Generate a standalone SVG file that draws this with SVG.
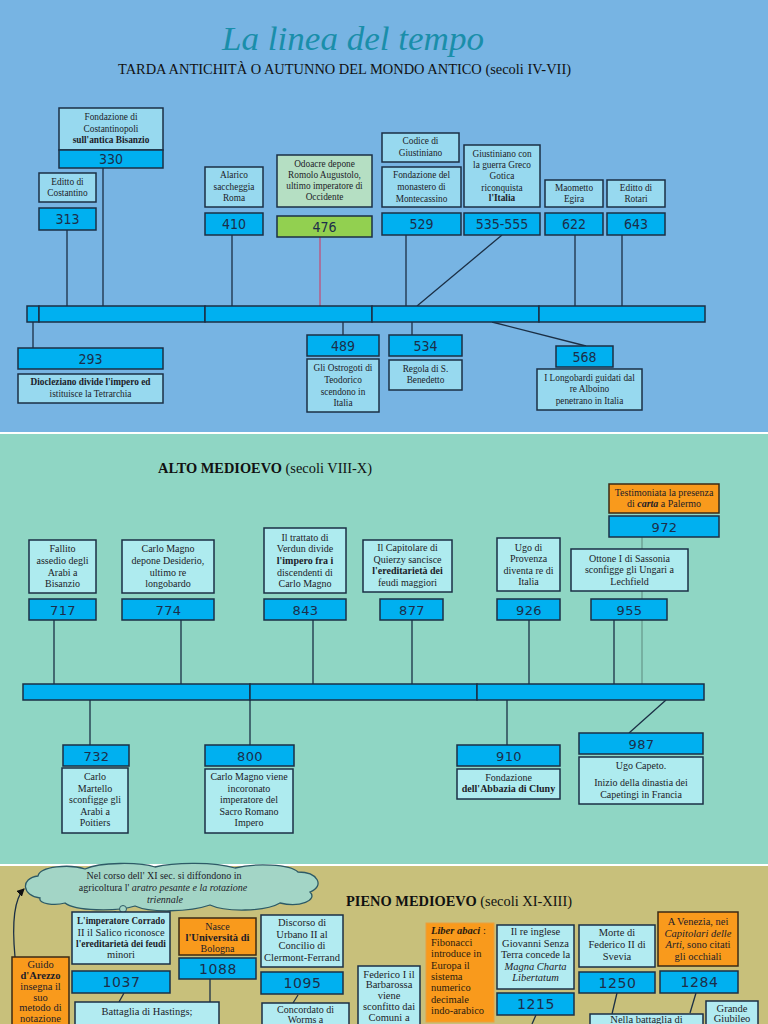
<svg xmlns="http://www.w3.org/2000/svg" width="768" height="1024" viewBox="0 0 768 1024">
<defs>
<style>
.yb{fill:#00B0F0;stroke:#1b2f45;stroke-width:1.5}
.d1{fill:#97D9EF;stroke:#1b2f45;stroke-width:1.5}
.d2{fill:#AEEBEF;stroke:#1b2f45;stroke-width:1.5}
.d3{fill:#B2EBF1;stroke:#1b2f45;stroke-width:1.5}
.ob{fill:#F99A1C;stroke:#3b2a14;stroke-width:1.5}
.gb{fill:#92D050;stroke:#1b2f45;stroke-width:1.5}
.ln{stroke:#1b2f45;stroke-width:1.3;fill:none}
.t{font-family:"Liberation Serif","Times New Roman",serif;text-anchor:middle;fill:#1c1c28}
.s1{font-size:9.3px}
.s2{font-size:10px}
.s3{font-size:10.5px}
.n1{font-family:"Liberation Sans Narrow","DejaVu Sans Condensed","Liberation Sans",sans-serif;font-size:14px;text-anchor:middle;fill:#1c2e4a}
.n2{font-family:"DejaVu Sans",sans-serif;font-size:13px;letter-spacing:0.4px;text-anchor:middle;fill:#1c2e4a}
.n3{font-family:"DejaVu Sans",sans-serif;font-size:14px;letter-spacing:0.6px;text-anchor:middle;fill:#1c2e4a}
.b{font-weight:bold}
.i{font-style:italic}
.h{font-family:"Liberation Serif","Times New Roman",serif;fill:#111}
</style>
<marker id="ah" markerWidth="8" markerHeight="8" refX="7" refY="4" orient="auto" markerUnits="userSpaceOnUse">
<path d="M0,0 L8,4 L0,8 z" fill="#111"/>
</marker>
</defs>

<!-- backgrounds -->
<rect x="0" y="0" width="768" height="432" fill="#77B4E3"/>
<rect x="0" y="432" width="768" height="2" fill="#ffffff"/>
<rect x="0" y="434" width="768" height="430" fill="#8FD6C4"/>
<rect x="0" y="864" width="768" height="2" fill="#ffffff"/>
<rect x="0" y="866" width="768" height="158" fill="#C8C07B"/>

<!-- titles -->
<text x="353" y="50" text-anchor="middle" font-family="Liberation Serif, serif" font-style="italic" font-size="34" fill="#1A8EAA" textLength="262" lengthAdjust="spacingAndGlyphs">La linea del tempo</text>
<text x="118" y="74" class="h" font-size="15.5" textLength="453" lengthAdjust="spacingAndGlyphs">TARDA ANTICHITÀ O AUTUNNO DEL MONDO ANTICO (secoli IV-VII)</text>
<text x="158" y="473" class="h" font-size="14" textLength="214" lengthAdjust="spacingAndGlyphs"><tspan font-weight="bold">ALTO MEDIOEVO</tspan> (secoli VIII-X)</text>
<text x="346" y="906" class="h" font-size="15" textLength="226" lengthAdjust="spacingAndGlyphs"><tspan font-weight="bold">PIENO MEDIOEVO</tspan> (secoli XI-XIII)</text>

<!-- connectors -->
<g id="connectors">
<line class="ln" x1="67" y1="230" x2="67" y2="306"/>
<line class="ln" x1="103" y1="168" x2="103" y2="306"/>
<line class="ln" x1="232" y1="235" x2="232" y2="306"/>
<line x1="320" y1="237" x2="320" y2="306" stroke="#C0507A" stroke-width="1.3"/>
<line class="ln" x1="406" y1="235" x2="406" y2="306"/>
<line class="ln" x1="502" y1="235" x2="417" y2="306" stroke-width="1"/>
<line class="ln" x1="575" y1="235" x2="575" y2="306"/>
<line class="ln" x1="622" y1="235" x2="622" y2="306"/>
<line class="ln" x1="33" y1="322" x2="33" y2="348"/>
<line class="ln" x1="343" y1="322" x2="343" y2="335"/>
<line class="ln" x1="412" y1="322" x2="412" y2="335"/>
<line class="ln" x1="492" y1="322" x2="586" y2="346" stroke-width="1"/>

<line x1="642" y1="537" x2="642" y2="684" stroke="#5d8a7e" stroke-width="1"/>
<line class="ln" x1="54" y1="620" x2="54" y2="684"/>
<line class="ln" x1="181" y1="620" x2="181" y2="684"/>
<line class="ln" x1="313" y1="620" x2="313" y2="684"/>
<line class="ln" x1="412" y1="620" x2="412" y2="684"/>
<line class="ln" x1="529" y1="620" x2="529" y2="684"/>
<line class="ln" x1="614" y1="620" x2="614" y2="684"/>
<line class="ln" x1="90" y1="700" x2="90" y2="745"/>
<line class="ln" x1="250" y1="700" x2="250" y2="745"/>
<line class="ln" x1="507" y1="700" x2="507" y2="745"/>
<line class="ln" x1="666" y1="700" x2="629" y2="733" stroke-width="1"/>

<path class="ln" d="M15 957 C12 925 13 900 24 889" stroke="#111" marker-end="url(#ah)"/>
<line class="ln" x1="124" y1="993" x2="119" y2="1002" stroke-width="1"/>
<line class="ln" x1="210" y1="979" x2="210" y2="1002"/>
<line class="ln" x1="298" y1="995" x2="293" y2="1003" stroke-width="1"/>
<line class="ln" x1="536" y1="1015" x2="532" y2="1024" stroke-width="1"/>
<line class="ln" x1="617" y1="993" x2="612" y2="1014" stroke-width="1"/>
<line class="ln" x1="696" y1="993" x2="690" y2="1013" stroke-width="1"/>
</g>

<!-- timeline bars -->
<g id="bar1">
<rect class="yb" x="27" y="306" width="12" height="16"/>
<rect class="yb" x="39" y="306" width="166" height="16"/>
<rect class="yb" x="205" y="306" width="167" height="16"/>
<rect class="yb" x="372" y="306" width="167" height="16"/>
<rect class="yb" x="539" y="306" width="166" height="16"/>
</g>
<g id="bar2">
<rect class="yb" x="23" y="684" width="227" height="16"/>
<rect class="yb" x="250" y="684" width="227" height="16"/>
<rect class="yb" x="477" y="684" width="227" height="16"/>
</g>

<!-- Section 1 nodes -->
<g id="n313">
<rect class="d1" x="39" y="173" width="57" height="29"/>
<text class="t s1" x="67.5" y="185">Editto di</text>
<text class="t s1" x="67.5" y="196">Costantino</text>
<rect class="yb" x="39" y="208" width="57" height="22"/>
<text class="n1" x="67.5" y="224">313</text>
</g>
<g id="n330">
<rect class="d1" x="59" y="108" width="104" height="42"/>
<text class="t s1" x="111" y="120">Fondazione di</text>
<text class="t s1" x="111" y="132">Costantinopoli</text>
<text class="t s1 b" x="111" y="143">sull'antica Bisanzio</text>
<rect class="yb" x="59" y="150" width="104" height="18"/>
<text class="n1" x="111" y="164">330</text>
</g>
<g id="n410">
<rect class="d1" x="205" y="167" width="58" height="40"/>
<text class="t s1" x="234" y="178">Alarico</text>
<text class="t s1" x="234" y="190">saccheggia</text>
<text class="t s1" x="234" y="201">Roma</text>
<rect class="yb" x="205" y="213" width="58" height="22"/>
<text class="n1" x="234" y="229">410</text>
</g>
<g id="n476">
<rect x="277" y="155" width="95" height="52" fill="#B5DFC3" stroke="#1b2f45" stroke-width="1.5"/>
<text class="t s1" x="324.5" y="167">Odoacre depone</text>
<text class="t s1" x="324.5" y="178">Romolo Augustolo,</text>
<text class="t s1" x="324.5" y="189">ultimo imperatore di</text>
<text class="t s1" x="324.5" y="200">Occidente</text>
<rect class="gb" x="277" y="216" width="95" height="21"/>
<text class="n1" x="324.5" y="231.5">476</text>
</g>
<g id="n529">
<rect class="d1" x="382" y="133" width="77" height="29"/>
<text class="t s1" x="420.5" y="144">Codice di</text>
<text class="t s1" x="420.5" y="156">Giustiniano</text>
<rect class="d1" x="382" y="167" width="79" height="40"/>
<text class="t s1" x="421.5" y="178">Fondazione del</text>
<text class="t s1" x="421.5" y="190">monastero di</text>
<text class="t s1" x="421.5" y="202">Montecassino</text>
<rect class="yb" x="382" y="213" width="79" height="22"/>
<text class="n1" x="421.5" y="229">529</text>
</g>
<g id="n535">
<rect class="d1" x="464" y="145" width="76" height="62"/>
<text class="t s1" x="502" y="157">Giustiniano con</text>
<text class="t s1" x="502" y="168">la guerra Greco</text>
<text class="t s1" x="502" y="179">Gotica</text>
<text class="t s1" x="502" y="191">riconquista</text>
<text class="t s1 b" x="502" y="201">l'Italia</text>
<rect class="yb" x="464" y="213" width="76" height="22"/>
<text class="n1" x="502" y="229">535-555</text>
</g>
<g id="n622">
<rect class="d1" x="545" y="180" width="58" height="27"/>
<text class="t s1" x="574" y="191">Maometto</text>
<text class="t s1" x="574" y="202">Egira</text>
<rect class="yb" x="545" y="213" width="58" height="22"/>
<text class="n1" x="574" y="229">622</text>
</g>
<g id="n643">
<rect class="d1" x="607" y="180" width="58" height="27"/>
<text class="t s1" x="636" y="191">Editto di</text>
<text class="t s1" x="636" y="202">Rotari</text>
<rect class="yb" x="607" y="213" width="58" height="22"/>
<text class="n1" x="636" y="229">643</text>
</g>
<g id="n293">
<rect class="yb" x="18" y="348" width="145" height="21"/>
<text class="n1" x="90.5" y="363.5">293</text>
<rect class="d1" x="18" y="374" width="145" height="29"/>
<text class="t s1 b" x="90.5" y="385">Diocleziano divide l'impero ed</text>
<text class="t s1" x="90.5" y="397">istituisce la Tetrarchia</text>
</g>
<g id="n489">
<rect class="yb" x="307" y="335" width="72" height="21"/>
<text class="n1" x="343" y="350.5">489</text>
<rect class="d1" x="307" y="359" width="72" height="53"/>
<text class="t s1" x="343" y="371">Gli Ostrogoti di</text>
<text class="t s1" x="343" y="383">Teodorico</text>
<text class="t s1" x="343" y="395">scendono in</text>
<text class="t s1" x="343" y="406">Italia</text>
</g>
<g id="n534">
<rect class="yb" x="389" y="335" width="73" height="21"/>
<text class="n1" x="425.5" y="350.5">534</text>
<rect class="d1" x="389" y="360" width="73" height="30"/>
<text class="t s1" x="425.5" y="372">Regola di S.</text>
<text class="t s1" x="425.5" y="383">Benedetto</text>
</g>
<g id="n568">
<rect class="yb" x="556" y="346" width="57" height="21"/>
<text class="n1" x="584.5" y="361.5">568</text>
<rect class="d1" x="537" y="369" width="105" height="41"/>
<text class="t s1" x="589.5" y="381">I Longobardi guidati dal</text>
<text class="t s1" x="589.5" y="392">re Alboino</text>
<text class="t s1" x="589.5" y="404">penetrano in Italia</text>
</g>

<!-- Section 2 nodes -->
<g id="n717">
<rect class="d2" x="29" y="540" width="67" height="53"/>
<text class="t s2" x="62.5" y="552">Fallito</text>
<text class="t s2" x="62.5" y="564">assedio degli</text>
<text class="t s2" x="62.5" y="575.5">Arabi a</text>
<text class="t s2" x="62.5" y="587">Bisanzio</text>
<rect class="yb" x="29" y="599" width="67" height="21"/>
<text class="n2" x="63" y="614.5">717</text>
</g>
<g id="n774">
<rect class="d2" x="122" y="540" width="92" height="53"/>
<text class="t s2" x="168" y="552">Carlo Magno</text>
<text class="t s2" x="168" y="564">depone Desiderio,</text>
<text class="t s2" x="168" y="575.5">ultimo re</text>
<text class="t s2" x="168" y="587">longobardo</text>
<rect class="yb" x="122" y="599" width="92" height="21"/>
<text class="n2" x="168.5" y="614.5">774</text>
</g>
<g id="n843">
<rect class="d2" x="264" y="528" width="82" height="65"/>
<text class="t s2" x="305" y="540.5">Il trattato di</text>
<text class="t s2" x="305" y="552">Verdun divide</text>
<text class="t s2 b" x="305" y="564">l'impero fra i</text>
<text class="t s2" x="305" y="575.5">discendenti di</text>
<text class="t s2" x="305" y="587">Carlo Magno</text>
<rect class="yb" x="264" y="599" width="82" height="21"/>
<text class="n2" x="305.5" y="614.5">843</text>
</g>
<g id="n877">
<rect class="d2" x="363" y="540" width="89" height="52"/>
<text class="t s2" x="407.5" y="551">Il Capitolare di</text>
<text class="t s2" x="407.5" y="562.5">Quierzy sancisce</text>
<text class="t s2 b" x="407.5" y="574">l'ereditarietà dei</text>
<text class="t s2" x="407.5" y="585.5">feudi maggiori</text>
<rect class="yb" x="380" y="599" width="63" height="21"/>
<text class="n2" x="412" y="614.5">877</text>
</g>
<g id="n926">
<rect class="d2" x="497" y="538" width="63" height="53"/>
<text class="t s2" x="528.5" y="550.5">Ugo di</text>
<text class="t s2" x="528.5" y="562">Provenza</text>
<text class="t s2" x="528.5" y="574">diventa re di</text>
<text class="t s2" x="528.5" y="585">Italia</text>
<rect class="yb" x="497" y="599" width="63" height="21"/>
<text class="n2" x="529" y="614.5">926</text>
</g>
<g id="n955">
<rect class="d2" x="571" y="549" width="117" height="42"/>
<text class="t s2" x="629.5" y="561.5">Ottone I di Sassonia</text>
<text class="t s2" x="629.5" y="573">sconfigge gli Ungari a</text>
<text class="t s2" x="629.5" y="585">Lechfield</text>
<rect class="yb" x="591" y="599" width="76" height="21"/>
<text class="n2" x="629.5" y="614.5">955</text>
</g>
<g id="n972">
<rect class="ob" x="609" y="484" width="110" height="29"/>
<text class="t s2" x="664" y="496">Testimoniata la presenza</text>
<text class="t s2" x="664" y="507">di <tspan font-weight="bold" font-style="italic">carta</tspan> a Palermo</text>
<rect class="yb" x="609" y="516" width="110" height="21"/>
<text class="n2" x="664.5" y="531.5">972</text>
</g>
<g id="n732">
<rect class="yb" x="63" y="745" width="66" height="21"/>
<text class="n2" x="96.5" y="760.5">732</text>
<rect class="d2" x="62" y="768" width="66" height="65"/>
<text class="t s2" x="95" y="780">Carlo</text>
<text class="t s2" x="95" y="791.5">Martello</text>
<text class="t s2" x="95" y="803">sconfigge gli</text>
<text class="t s2" x="95" y="815">Arabi a</text>
<text class="t s2" x="95" y="826">Poitiers</text>
</g>
<g id="n800">
<rect class="yb" x="205" y="745" width="89" height="21"/>
<text class="n2" x="250" y="760.5">800</text>
<rect class="d2" x="205" y="769" width="88" height="64"/>
<text class="t s2" x="249" y="780">Carlo Magno viene</text>
<text class="t s2" x="249" y="791.5">incoronato</text>
<text class="t s2" x="249" y="803">imperatore del</text>
<text class="t s2" x="249" y="815">Sacro Romano</text>
<text class="t s2" x="249" y="826">Impero</text>
</g>
<g id="n910">
<rect class="yb" x="457" y="745" width="103" height="21"/>
<text class="n2" x="509" y="760.5">910</text>
<rect class="d2" x="457" y="769" width="103" height="30"/>
<text class="t s2" x="508.5" y="781">Fondazione</text>
<text class="t s2 b" x="508.5" y="792">dell'Abbazia di Cluny</text>
</g>
<g id="n987">
<rect class="yb" x="579" y="733" width="124" height="21"/>
<text class="n2" x="641.5" y="748.5">987</text>
<rect class="d2" x="579" y="757" width="124" height="47"/>
<text class="t s2" x="641" y="769">Ugo Capeto.</text>
<text class="t s2" x="641" y="786">Inizio della dinastia dei</text>
<text class="t s2" x="641" y="797.5">Capetingi in Francia</text>
</g>

<!-- Section 3 nodes -->
<g id="cloud">
<path d="M40 898 C22 896 20 878 38 876 C40 866 70 864 85 869 C100 862 140 862 155 867 C175 862 215 862 235 868 C255 863 290 864 298 872 C318 872 325 886 310 892 C318 900 300 908 280 903 C265 912 225 912 210 905 C190 912 150 913 135 906 C115 912 75 911 65 903 C55 906 38 904 40 898 Z" fill="#A3D5C6" stroke="#2d5a66" stroke-width="1.3"/>
<circle cx="123" cy="909" r="3.5" fill="#A3D5C6" stroke="#2d5a66" stroke-width="1"/>
<circle cx="115" cy="914" r="2.2" fill="#A3D5C6" stroke="#2d5a66" stroke-width="1"/>
<text class="t s2" x="164" y="879">Nel corso dell' XI sec. si diffondono in</text>
<text class="t s2" x="163" y="891">agricoltura l' <tspan class="i">aratro pesante e la rotazione</tspan></text>
<text class="t s2 i" x="165" y="903">triennale</text>
</g>
<g id="n1037">
<rect class="d3" x="72" y="912" width="98" height="52"/>
<text class="t s3 b" x="121" y="924" textLength="88" lengthAdjust="spacingAndGlyphs">L'imperatore Corrado</text>
<text class="t s3" x="121" y="935.5">II il Salico riconosce</text>
<text class="t s3 b" x="121" y="946.5" textLength="90" lengthAdjust="spacingAndGlyphs">l'ereditarietà dei feudi</text>
<text class="t s3" x="121" y="958">minori</text>
<rect class="yb" x="72" y="971" width="98" height="22"/>
<text class="n3" x="121.5" y="987">1037</text>
</g>
<g id="n1088">
<rect class="ob" x="179" y="918" width="77" height="37"/>
<text class="t s2" x="217.5" y="929.5">Nasce</text>
<text class="t s2 b" x="217.5" y="940.5" textLength="64" lengthAdjust="spacingAndGlyphs">l'Università di</text>
<text class="t s2" x="217.5" y="951.5">Bologna</text>
<rect class="yb" x="179" y="958" width="77" height="21"/>
<text class="n3" x="218" y="973.5">1088</text>
</g>
<g id="nGuido">
<rect class="ob" x="12" y="957" width="57" height="80"/>
<text class="t s3" x="40.5" y="968">Guido</text>
<text class="t s3 b" x="40.5" y="979">d'Arezzo</text>
<text class="t s3" x="40.5" y="990">insegna il</text>
<text class="t s3" x="40.5" y="1000.5">suo</text>
<text class="t s3" x="40.5" y="1011">metodo di</text>
<text class="t s3" x="40.5" y="1021.5">notazione</text>
</g>
<g id="nHastings">
<rect class="d3" x="75" y="1002" width="144" height="30"/>
<text class="t s3" x="147" y="1015">Battaglia di Hastings;</text>
</g>
<g id="n1095">
<rect class="d3" x="261" y="915" width="82" height="52"/>
<text class="t s3" x="302" y="926">Discorso di</text>
<text class="t s3" x="302" y="937.5">Urbano II al</text>
<text class="t s3" x="302" y="949">Concilio di</text>
<text class="t s3" x="302" y="961">Clermont-Ferrand</text>
<rect class="yb" x="261" y="972" width="82" height="22"/>
<text class="n3" x="302.5" y="988">1095</text>
</g>
<g id="nWorms">
<rect class="d3" x="262" y="1003" width="87" height="30"/>
<text class="t s2" x="305.5" y="1012.5">Concordato di</text>
<text class="t s2" x="305.5" y="1023">Worms a</text>
</g>
<g id="nFederico">
<rect class="d3" x="358" y="966" width="62" height="70"/>
<text class="t s3" x="389" y="977.5">Federico I il</text>
<text class="t s3" x="389" y="988">Barbarossa</text>
<text class="t s3" x="389" y="999">viene</text>
<text class="t s3" x="389" y="1010">sconfitto dai</text>
<text class="t s3" x="389" y="1021">Comuni a</text>
</g>
<g id="nLiber">
<rect x="426" y="923" width="68" height="99" fill="#F99A1C" stroke="#E8A040" stroke-width="1"/>
<g font-family="Liberation Serif, serif" font-size="10.5" fill="#2a1a10">
<text x="431" y="934"><tspan font-weight="bold" font-style="italic">Liber abaci</tspan> :</text>
<text x="431" y="945.5">Fibonacci</text>
<text x="431" y="957">introduce in</text>
<text x="431" y="968.5">Europa il</text>
<text x="431" y="980">sistema</text>
<text x="431" y="991">numerico</text>
<text x="431" y="1002.5">decimale</text>
<text x="431" y="1014">indo-arabico</text>
</g>
</g>
<g id="n1215">
<rect class="d3" x="497" y="925" width="77" height="64"/>
<text class="t s3" x="535.5" y="935">Il re inglese</text>
<text class="t s3" x="535.5" y="946.5">Giovanni Senza</text>
<text class="t s3" x="535.5" y="958">Terra concede la</text>
<text class="t s3 i" x="535.5" y="969.5">Magna Charta</text>
<text class="t s3 i" x="535.5" y="981">Libertatum</text>
<rect class="yb" x="497" y="993" width="77" height="22"/>
<text class="n3" x="536" y="1009">1215</text>
</g>
<g id="n1250">
<rect class="d3" x="579" y="925" width="76" height="42"/>
<text class="t s3" x="617" y="936">Morte di</text>
<text class="t s3" x="617" y="948">Federico II di</text>
<text class="t s3" x="617" y="960">Svevia</text>
<rect class="yb" x="579" y="972" width="76" height="21"/>
<text class="n3" x="617.5" y="987.5">1250</text>
</g>
<g id="nNella">
<rect class="d3" x="590" y="1014" width="113" height="20"/>
<text class="t s3" x="646.5" y="1022.5">Nella battaglia di</text>
</g>
<g id="n1284">
<rect class="ob" x="658" y="912" width="80" height="54"/>
<text class="t s3" x="698" y="925">A Venezia, nei</text>
<text class="t s3 i" x="698" y="936.5">Capitolari delle</text>
<text class="t s3" x="698" y="948"><tspan class="i">Arti</tspan>, sono citati</text>
<text class="t s3" x="698" y="960">gli occhiali</text>
<rect class="yb" x="660" y="971" width="78" height="22"/>
<text class="n3" x="699.5" y="987">1284</text>
</g>
<g id="nGiubileo">
<rect class="d3" x="706" y="1001" width="52" height="30"/>
<text class="t s3" x="732" y="1012">Grande</text>
<text class="t s3" x="732" y="1022">Giubileo</text>
</g>
</svg>
